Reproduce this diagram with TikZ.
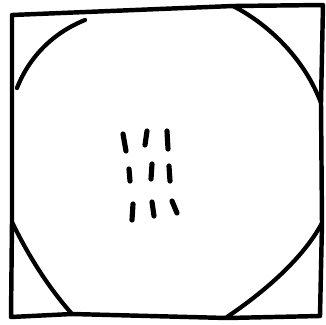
\documentclass[tikz,border=0pt]{standalone}
\usepackage{tikz}

\begin{document}
\begin{tikzpicture}[
    x=0.03cm, y=-0.03cm,
    frame/.style={draw, line width=3.8pt, line join=round, line cap=round},
    corner/.style={draw, line width=3.6pt, line cap=round},
    tick/.style={draw, line width=4.4pt, line cap=round}
]
    \useasboundingbox (0,0) rectangle (326,324);

    % Frame
    \draw [frame] (12,15) -- (233,6) -- (323,5) -- (321,103) -- (322,223) -- (320,316)
        -- (227,318) -- (72,314) -- (11,317) -- (12,222) -- (12,88) -- cycle;

    % Corner arcs
    \draw [corner] (85,20) .. controls (55,32) and (30,55) .. (17,88);
    \draw [corner] (233,6) .. controls (270,25) and (305,60) .. (321,103);
    \draw [corner] (322,223) .. controls (305,255) and (270,288) .. (227,317);
    \draw [corner] (12,222) .. controls (28,255) and (48,287) .. (72,314);

    % Marks
    \draw [tick] (123,134) -- (126,151);
    \draw [tick] (147,131) -- (145,145);
    \draw [tick] (167,131) -- (168,149);
    \draw [tick] (129,169) -- (130,181);
    \draw [tick] (152,164) -- (151,179);
    \draw [tick] (169,166) -- (170,181);
    \draw [tick] (133,204) -- (132,220);
    \draw [tick] (152,202) -- (154,216);
    \draw [tick] (172,201) -- (177,213);
\end{tikzpicture}
\end{document}
